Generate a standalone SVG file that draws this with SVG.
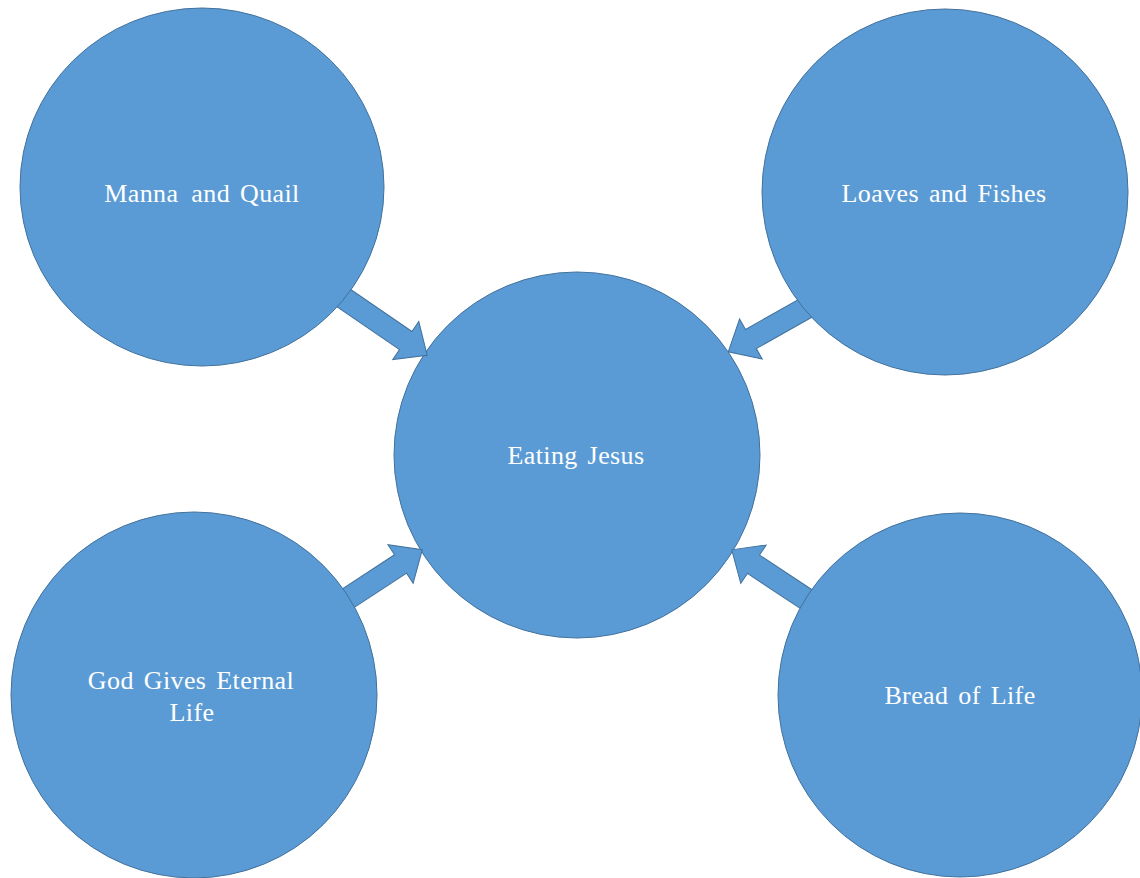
<svg xmlns="http://www.w3.org/2000/svg" width="1140" height="878" viewBox="0 0 1140 878">
<style>
.node{fill:#5B9BD5;stroke:#41719C;stroke-width:1}
.arrow{fill:#5B9BD5;stroke:#41719C;stroke-width:1;stroke-linejoin:miter}
.lbl{font-family:"Liberation Serif","Times New Roman",serif;font-size:26px;fill:#FFFFFF;text-anchor:middle;letter-spacing:0.4px;word-spacing:3px}
</style>
<rect width="1140" height="878" fill="#FFFFFF"/>
<g id="center">
<circle class="node" cx="577" cy="455" r="183"/>
<text class="lbl" x="576" y="464">Eating Jesus</text>
</g>
<g id="connectors">
<polygon class="arrow" transform="translate(348,301) rotate(34.4)" points="-18,-11 70,-11 70,-23 96,0 70,23 70,11 -18,11"/>
<polygon class="arrow" transform="translate(804,309) rotate(150.5)" points="-18,-11 61,-11 61,-23 87,0 61,23 61,11 -18,11"/>
<polygon class="arrow" transform="translate(347,599) rotate(-33.2)" points="-18,-11 64,-11 64,-23 90,0 64,23 64,11 -18,11"/>
<polygon class="arrow" transform="translate(806,599) rotate(-146.5)" points="-18,-11 63,-11 63,-23 89,0 63,23 63,11 -18,11"/>
</g>
<g id="manna">
<ellipse class="node" cx="202" cy="187" rx="182" ry="179"/>
<text class="lbl" x="202" y="202">Manna<tspan dx="3"> and Quail</tspan></text>
</g>
<g id="loaves">
<circle class="node" cx="945" cy="192" r="183"/>
<text class="lbl" x="944" y="202">Loaves and Fishes</text>
</g>
<g id="god">
<circle class="node" cx="194" cy="695" r="183"/>
<text class="lbl" x="191" y="689">God Gives Eternal</text>
<text class="lbl" x="192" y="721">Life</text>
</g>
<g id="bread">
<circle class="node" cx="960" cy="695" r="182"/>
<text class="lbl" x="960" y="704">Bread of Life</text>
</g>
</svg>
